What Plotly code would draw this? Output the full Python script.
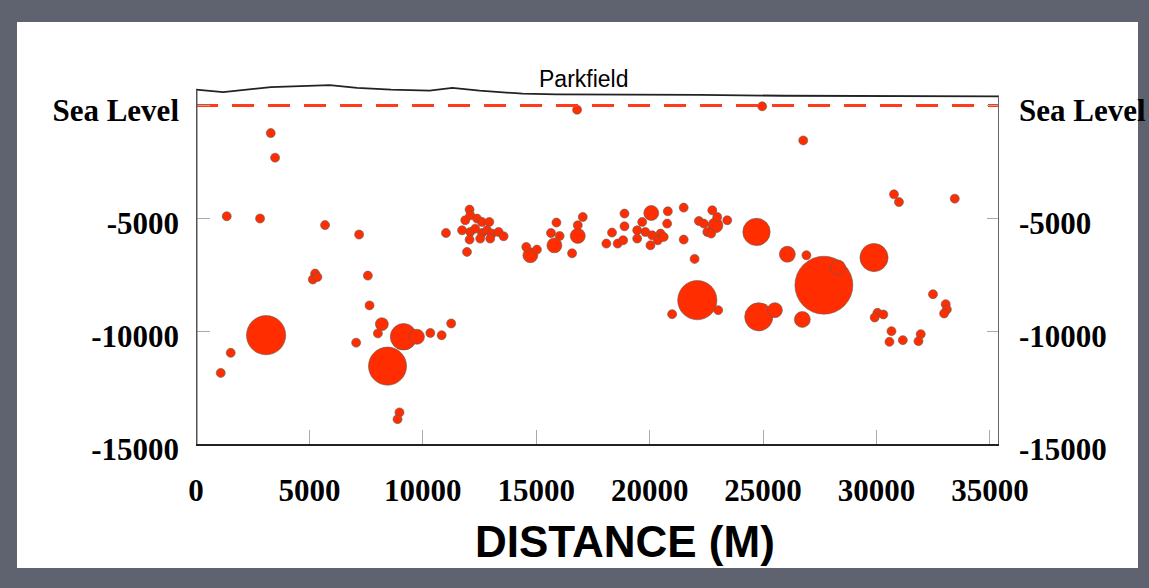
import plotly.graph_objects as go

# ---- data ----
topo_x = [0, 1200, 3300, 4600, 5900, 7100, 8600, 10300, 11300, 12500, 14400, 15900, 17800, 22200, 25900, 35400]
topo_elev = [700, 590, 810, 850, 900, 780, 700, 660, 780, 660, 520, 490, 490, 470, 430, 400]

quake_dist = [
    3295, 3486, 16800, 24960, 26770, 30770, 30990, 33450,
    1355, 2824, 5690, 7190, 5250, 5150, 5350, 7576, 7650, 8193, 8020, 3090,
    1530, 1090, 7060, 8443, 9150, 9740, 10330, 10830, 11250, 8970, 8885,
    11020, 11946, 12060, 12090, 11870, 12390, 12610, 12930, 11730, 12090,
    12310, 12610, 12830, 13050, 13340, 13560, 12060, 12530, 12970,
    14740, 14560, 15030, 15890, 15650, 16030, 15800, 16580, 16830, 16830, 17050,
    18890, 18340, 18090, 18590, 18830, 18890, 20070, 19670, 19450, 19810,
    19450, 20110, 20480, 20770, 20800, 20035, 20360, 20620, 21500, 21500,
    21980, 22170, 22390, 22760, 22900, 22540, 22980, 23420, 22710,
    22100, 20990, 23020, 24810, 25520, 26730, 24710, 26070, 26910, 27680,
    28300, 29890, 32490, 33050, 33100, 32980, 30040, 30300, 29920, 30660,
    30570, 31160, 31950, 31850,
]
quake_depth = [
    -1225, -2315, -190, -40, -1550, -3940, -4280, -4130,
    -4910, -5010, -5300, -5720, -7450, -7710, -7600, -7540, -8860, -9690, -10100, -10180,
    -10960, -11850, -10510, -11550, -10250, -10250, -10080, -10180, -9660, -13600, -13900,
    -5650, -6490, -4615, -4867, -5088, -5013, -5162, -5162, -5531, -5605,
    -5458, -5650, -5531, -5678, -5605, -5796, -5943, -5900, -5900,
    -6637, -6270, -6386, -5190, -5650, -5783, -6200, -6550, -5780, -5310, -4942,
    -4792, -5633, -6120, -6120, -5973, -5354, -4765, -5162, -5531, -5605,
    -5900, -5752, -5678, -5236, -4690, -6195, -5973, -5826, -4527, -5943,
    -6800, -5118, -5236, -4646, -5310, -5605, -4942, -5088, -5678,
    -8628, -9248, -9070, -9366, -9070, -9483, -5605, -6593, -6637, -7965,
    -7180, -6740, -8363, -8805, -9040, -9217, -9190, -9261, -9394, -10000,
    -10473, -10398, -10133, -10443,
]
quake_mag = [
    1.5, 1.5, 1.5, 1.5, 1.5, 1.5, 1.5, 1.5,
    1.5, 1.5, 1.5, 1.5, 1.5, 1.5, 1.5, 1.5, 1.5, 2.1, 1.5, 3.95,
    1.5, 1.5, 1.5, 3.9, 3.3, 2.35, 1.5, 1.5, 1.5, 1.5, 1.5,
    1.5, 1.5, 1.5, 1.5, 1.5, 1.5, 1.5, 1.5, 1.5, 1.5,
    1.5, 1.5, 1.5, 1.5, 1.5, 1.5, 1.5, 1.5, 1.5,
    2.35, 1.5, 1.5, 1.5, 1.5, 1.5, 2.35, 1.5, 2.35, 1.5, 1.5,
    1.5, 1.5, 1.5, 1.5, 1.5, 1.5, 2.35, 1.5, 1.5, 1.5,
    1.5, 1.5, 1.5, 1.5, 1.5, 1.5, 1.5, 1.5, 1.5, 1.5,
    1.5, 1.5, 1.5, 1.5, 2.35, 1.5, 1.5, 1.5, 1.5,
    3.95, 1.5, 1.5, 3.4, 2.35, 2.45, 3.35, 2.45, 1.5, 4.6,
    2.35, 3.4, 1.5, 1.5, 1.5, 1.5, 1.5, 1.5, 1.5, 1.5,
    1.5, 1.5, 1.5, 1.5,
]

x_ticks = [0, 5000, 10000, 15000, 20000, 25000, 30000, 35000]
y_ticks = [0, -5000, -10000, -15000]
y_tick_text = ["Sea Level", "-5000", "-10000", "-15000"]
x_max = 35400
y_min, y_max = -15000, 950

sizes = [3.65 * 10 ** (0.261 * m) for m in quake_mag]

serif_bold = dict(family="Liberation Serif, Times New Roman, serif", size=31, color="black", weight="bold")

fig = go.Figure()

# sea level dashed line (on right axis so that axis is drawn)
fig.add_trace(go.Scatter(
    x=[0, x_max], y=[0, 0], mode="lines", yaxis="y2",
    line=dict(color="#ff3b1a", width=3, dash="22px,14px"),
    hoverinfo="skip", showlegend=False,
))
# topography
fig.add_trace(go.Scatter(
    x=topo_x, y=topo_elev, mode="lines",
    line=dict(color="#222222", width=1.8),
    hoverinfo="skip", showlegend=False,
))
# earthquakes
fig.add_trace(go.Scatter(
    x=quake_dist, y=quake_depth, mode="markers",
    marker=dict(size=sizes, sizemode="diameter", color="#ff2d00",
                line=dict(color="rgba(95,95,95,0.6)", width=1), opacity=1),
    showlegend=False,
))

fig.update_layout(
    width=1149, height=588, autosize=False,
    paper_bgcolor="#5f6370",
    plot_bgcolor="white",
    margin=dict(l=196, r=150, t=84, b=144, pad=0, autoexpand=False),
    showlegend=False,
    xaxis=dict(
        range=[0, x_max], tickvals=x_ticks, ticktext=[str(v) for v in x_ticks],
        ticks="inside", ticklen=14, tickcolor="#aaaaaa", tickwidth=1,
        showline=True, linecolor="#222222", linewidth=2,
        showgrid=False, zeroline=False, tickfont=serif_bold,
        ticklabelstandoff=18, automargin=False,
    ),
    yaxis=dict(
        range=[y_min, y_max], tickvals=y_ticks, ticktext=y_tick_text,
        ticks="inside", ticklen=14, tickcolor="#aaaaaa", tickwidth=1,
        showline=False, showgrid=False, zeroline=False, tickfont=serif_bold,
        ticklabelstandoff=16, ticklabelshift=5, automargin=False,
    ),
    yaxis2=dict(
        range=[y_min, y_max], tickvals=y_ticks, ticktext=y_tick_text,
        overlaying="y", side="right",
        ticks="inside", ticklen=12, tickcolor="#aaaaaa", tickwidth=1,
        showline=False, showgrid=False, zeroline=False, tickfont=serif_bold,
        ticklabelstandoff=19, ticklabelshift=5, automargin=False,
    ),
    shapes=[
        dict(type="rect", xref="paper", yref="paper",
             x0=(17 - 196) / 803, x1=(1138 - 196) / 803,
             y0=(444 - 568) / 360, y1=(444 - 22) / 360,
             fillcolor="white", line=dict(width=0), layer="below"),
        dict(type="line", xref="x", yref="y", x0=0, x1=0,
             y0=y_min, y1=topo_elev[0], line=dict(color="#555555", width=3)),
        dict(type="line", xref="x", yref="y", x0=x_max, x1=x_max,
             y0=y_min, y1=topo_elev[-1], line=dict(color="#666666", width=2)),
    ],
    annotations=[
        dict(text="Parkfield", xref="paper", yref="paper",
             x=(583 - 196) / 803, y=(444 - 79) / 360,
             showarrow=False, xanchor="center", yanchor="middle",
             font=dict(family="Liberation Sans, Arial, sans-serif", size=23, color="black")),
        dict(text="DISTANCE (M)", xref="paper", yref="paper",
             x=(625 - 196) / 803, y=(444 - 541) / 360,
             showarrow=False, xanchor="center", yanchor="middle",
             font=dict(family="Liberation Sans, Arial, sans-serif", size=44, color="black", weight="bold")),
    ],
)

fig.write_html(
    "out.html",
    config={"displayModeBar": False},
    post_script="document.body.style.margin='0';document.body.style.padding='0';document.body.style.overflow='hidden';",
)
